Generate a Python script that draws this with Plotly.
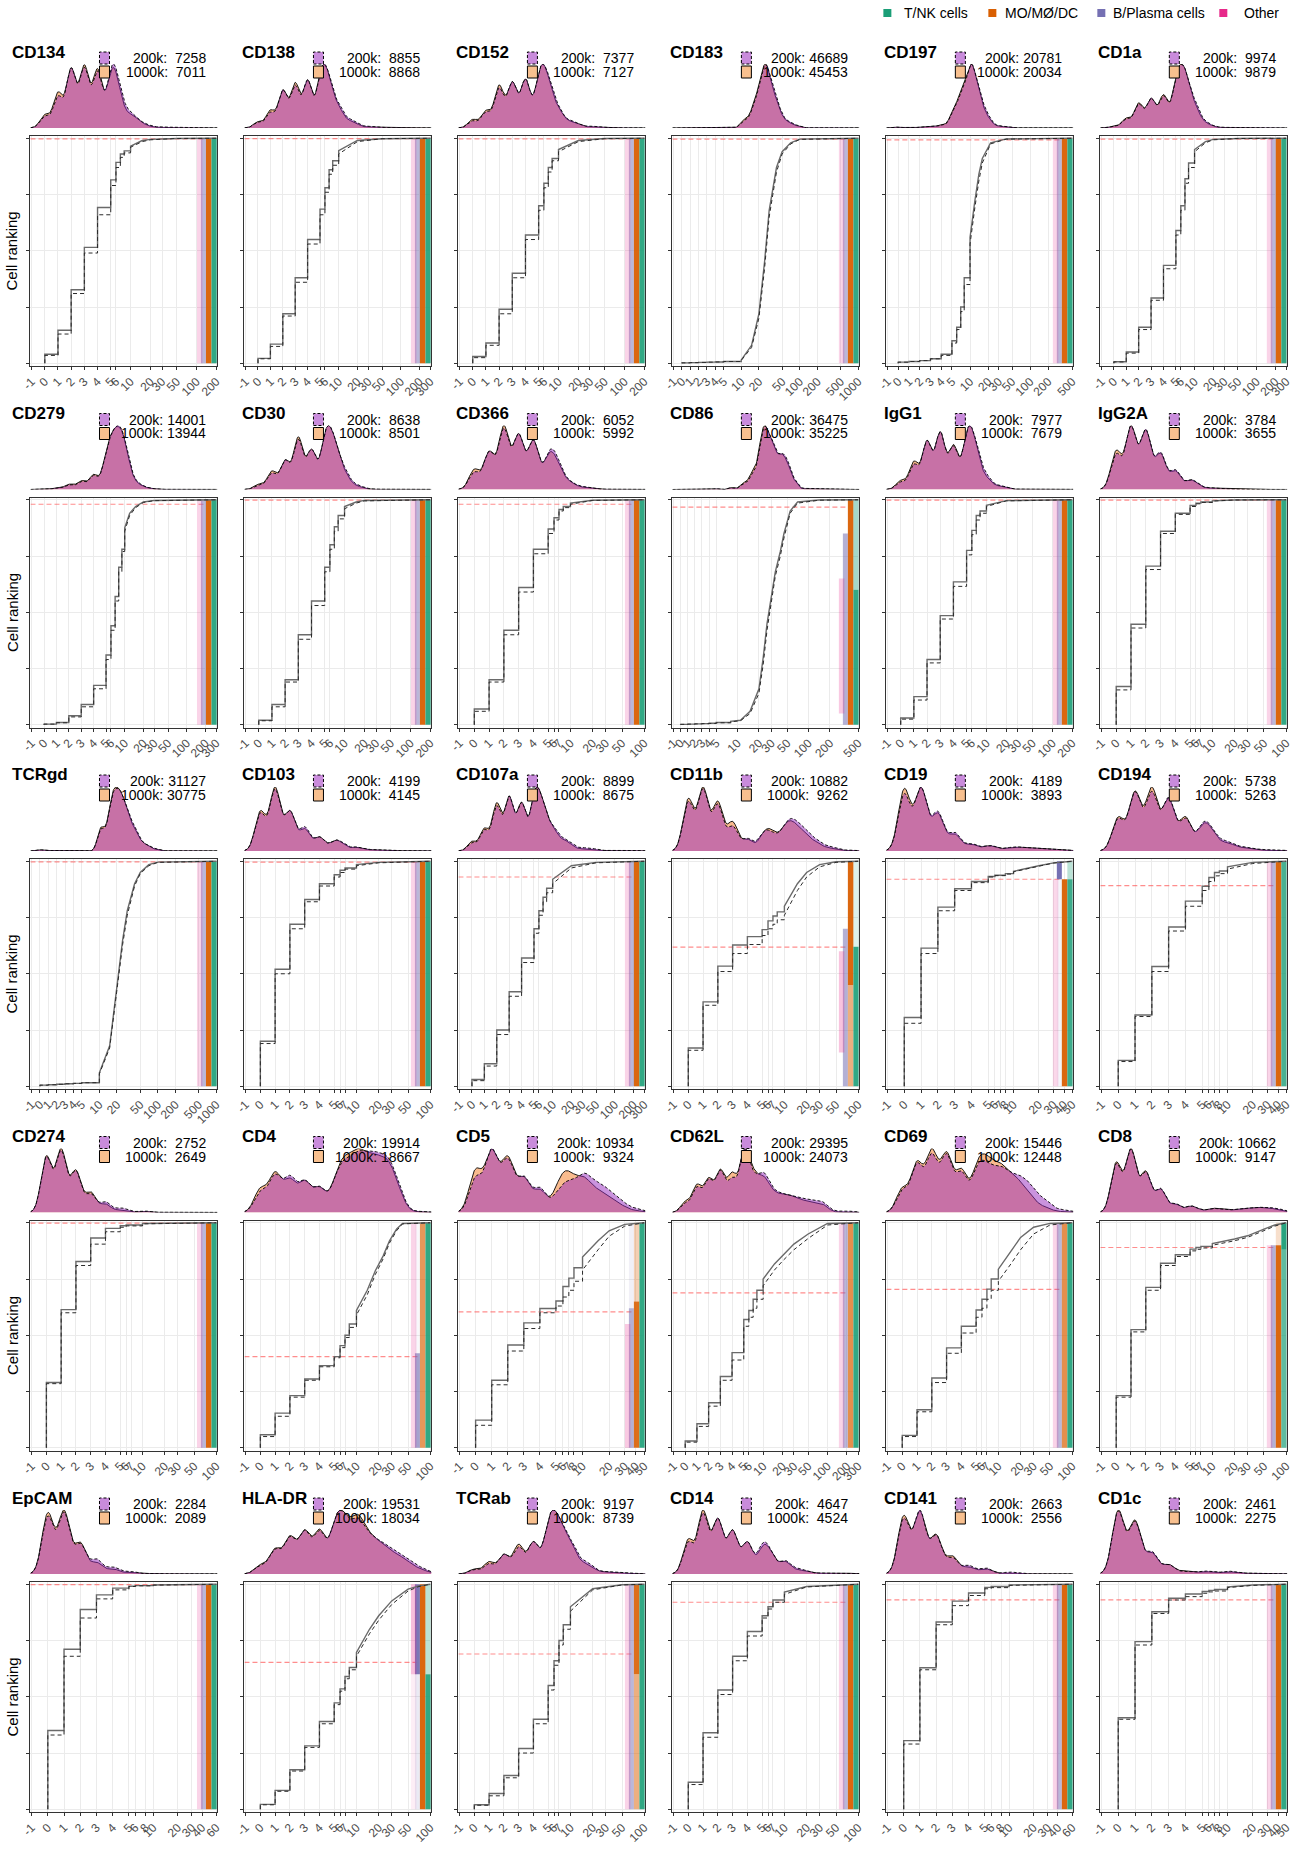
import math
import numpy as np
import plotly.graph_objects as go

FIG_W, FIG_H = 1299, 1850
FONT = "Liberation Sans, Arial, sans-serif"
# horizontal calibration of the rendered page (offset px, scale)
PAGE_X0, PAGE_XS = 10.5, 0.9886

# ---------------------------------------------------------------- data
MARKERS = ["CD134", "CD138", "CD152", "CD183", "CD197", "CD1a",
           "CD279", "CD30", "CD366", "CD86", "IgG1", "IgG2A",
           "TCRgd", "CD103", "CD107a", "CD11b", "CD19", "CD194",
           "CD274", "CD4", "CD5", "CD62L", "CD69", "CD8",
           "EpCAM", "HLA-DR", "TCRab", "CD14", "CD141", "CD1c"]
COUNT_200K = [7258, 8855, 7377, 46689, 20781, 9974,
              14001, 8638, 6052, 36475, 7977, 3784,
              31127, 4199, 8899, 10882, 4189, 5738,
              2752, 19914, 10934, 29395, 15446, 10662,
              2284, 19531, 9197, 4647, 2663, 2461]
COUNT_1000K = [7011, 8868, 7127, 45453, 20034, 9879,
               13944, 8501, 5992, 35225, 7679, 3655,
               30775, 4145, 8675, 9262, 3893, 5263,
               2649, 18667, 9324, 24073, 12448, 9147,
               2089, 18034, 8739, 4524, 2556, 2275]

# axis maximum (counts) and number of axis units per decade above 5
AXIS_MAX = [200, 300, 200, 1000, 500, 300,
            300, 200, 100, 500, 200, 100,
            1000, 100, 300, 100, 50, 50,
            100, 100, 50, 300, 100, 100,
            60, 100, 100, 100, 60, 50]
DECADE_UNITS = [5, 5, 5, 7, 5.6, 5,
                5, 5, 5, 10, 5, 5,
                7, 5, 5, 5, 5, 5,
                5, 5, 5.5, 5.5, 5, 5,
                5, 5, 5, 5, 5, 5]
BANDWIDTH = {"CD4": 0.42, "CD5": 0.4, "CD69": 0.4, "HLA-DR": 0.4, "CD62L": 0.4}

TICKS_50 = [-1, 0, 1, 2, 3, 4, 5, 6, 7, 8, 10, 20, 30, 40, 50]
TICKS_60 = [-1, 0, 1, 2, 3, 4, 5, 6, 8, 10, 20, 30, 40, 60]
TICKS_100 = [-1, 0, 1, 2, 3, 4, 5, 6, 7, 10, 20, 30, 50, 100]
TICKS_200 = [-1, 0, 1, 2, 3, 4, 5, 6, 10, 20, 30, 50, 100, 200]
TICKS_300 = [-1, 0, 1, 2, 3, 4, 5, 6, 10, 20, 30, 50, 100, 200, 300]
TICKS_500 = [-1, 0, 1, 2, 3, 4, 5, 10, 20, 30, 50, 100, 200, 500]
TICKS_1000 = [-1, 0, 1, 2, 3, 4, 5, 10, 20, 50, 100, 200, 500, 1000]
TICK_SETS = {50: TICKS_50, 60: TICKS_60, 100: TICKS_100, 200: TICKS_200,
             300: TICKS_300, 500: TICKS_500, 1000: TICKS_1000}

# red dashed threshold (cell ranking)
RED_LINE = [0.997, 0.998, 0.997, 0.996, 0.993, 0.996,
            0.98, 0.998, 0.98, 0.967, 0.998, 0.998,
            0.997, 0.996, 0.93, 0.618, 0.92, 0.892,
            0.998, 0.405, 0.604, 0.688, 0.704, 0.89,
            0.998, 0.653, 0.69, 0.92, 0.931, 0.931]

# cumulative cell ranking at count values (solid = 1000k, dashed = 200k)
CDF_X = {
    "CD134": [0, 1, 2, 3, 4, 5, 6, 7, 8, 10, 15, 20, 50, 200],
    "CD138": [0, 1, 2, 3, 4, 5, 6, 7, 8, 10, 20, 50, 300],
    "CD152": [0, 1, 2, 3, 4, 5, 6, 7, 8, 10, 20, 50, 200],
    "CD183": [0, 1, 2, 3, 4, 5, 10, 15, 20, 25, 30, 40, 50, 70, 100, 1000],
    "CD197": [0, 1, 2, 3, 4, 5, 6, 7, 8, 10, 12, 14, 16, 22, 40, 500],
    "CD1a": [0, 1, 2, 3, 4, 5, 6, 7, 8, 10, 15, 20, 50, 300],
    "CD279": [0, 1, 2, 3, 4, 5, 6, 7, 8, 9, 10, 12, 15, 20, 30, 300],
    "CD30": [0, 1, 2, 3, 4, 5, 6, 7, 8, 10, 15, 20, 200],
    "CD366": [0, 1, 2, 3, 4, 5, 6, 7, 8, 10, 20, 100],
    "CD86": [0, 1, 2, 3, 4, 5, 8, 11, 15, 20, 23, 26, 30, 34, 40, 45, 55, 70, 140, 500],
    "IgG1": [0, 1, 2, 3, 4, 5, 6, 7, 8, 10, 20, 200],
    "IgG2A": [0, 1, 2, 3, 4, 5, 6, 7, 10, 20, 100],
    "TCRgd": [0, 1, 2, 3, 4, 5, 10, 15, 20, 25, 30, 40, 50, 70, 100, 1000],
    "CD103": [0, 1, 2, 3, 4, 5, 6, 7, 10, 20, 100],
    "CD107a": [0, 1, 2, 3, 4, 5, 6, 7, 8, 10, 20, 50, 300],
    "CD11b": [0, 1, 2, 3, 4, 5, 6, 7, 8, 10, 15, 20, 30, 50, 100],
    "CD19": [0, 1, 2, 3, 4, 5, 6, 8, 10, 20, 30, 50],
    "CD194": [0, 1, 2, 3, 4, 5, 6, 7, 8, 10, 20, 50],
    "CD274": [0, 1, 2, 3, 4, 5, 6, 10, 100],
    "CD4": [0, 1, 2, 3, 4, 5, 6, 7, 8, 10, 14, 18, 23, 28, 35, 42, 100],
    "CD5": [0, 1, 2, 3, 4, 5, 6, 7, 8, 10, 15, 20, 30, 50],
    "CD62L": [0, 1, 2, 3, 4, 5, 6, 7, 8, 10, 15, 20, 30, 50, 100, 300],
    "CD69": [0, 1, 2, 3, 4, 5, 6, 7, 8, 10, 15, 20, 30, 50, 100],
    "CD8": [0, 1, 2, 3, 4, 5, 6, 7, 10, 20, 30, 50, 70, 100],
    "EpCAM": [0, 1, 2, 3, 4, 5, 6, 10, 60],
    "HLA-DR": [0, 1, 2, 3, 4, 5, 6, 7, 8, 10, 15, 20, 30, 50, 70, 100],
    "TCRab": [0, 1, 2, 3, 4, 5, 6, 7, 8, 10, 20, 50, 100],
    "CD14": [0, 1, 2, 3, 4, 5, 6, 7, 10, 20, 100],
    "CD141": [0, 1, 2, 3, 4, 5, 6, 10, 60],
    "CD1c": [0, 1, 2, 3, 4, 5, 6, 7, 10, 20, 50],
}
CDF_1000K = {
    "CD134": [.04, .147, .327, .515, .692, .815, .893, .93, .944, .965, .99, .995, .999, 1],
    "CD138": [.022, .085, .22, .38, .55, .685, .78, .86, .9, .945, .99, .998, 1],
    "CD152": [.03, .09, .24, .40, .57, .70, .80, .87, .91, .95, .99, .999, 1],
    "CD183": [.002, .003, .004, .005, .006, .008, .015, .08, .22, .45, .68, .87, .94, .98, .996, 1],
    "CD197": [.005, .008, .012, .02, .04, .1, .16, .25, .38, .56, .72, .84, .91, .98, .997, 1],
    "CD1a": [.007, .05, .16, .29, .435, .59, .70, .82, .89, .95, .985, .995, .999, 1],
    "CD279": [.003, .01, .04, .09, .175, .31, .44, .57, .70, .78, .875, .94, .97, .99, .997, 1],
    "CD30": [.02, .09, .20, .40, .55, .70, .80, .88, .93, .97, .99, .997, 1],
    "CD366": [.07, .20, .42, .61, .78, .87, .92, .957, .97, .985, .998, 1],
    "CD86": [.002, .003, .004, .005, .007, .01, .015, .02, .06, .16, .30, .45, .58, .68, .77, .85, .95, .99, .999, 1],
    "IgG1": [.03, .125, .29, .485, .635, .775, .864, .93, .95, .975, .996, 1],
    "IgG2A": [.17, .447, .705, .86, .94, .975, .985, .99, .995, .999, 1],
    "TCRgd": [.005, .007, .009, .011, .013, .016, .06, .18, .45, .65, .78, .9, .95, .985, .996, 1],
    "CD103": [.2, .52, .72, .83, .9, .94, .96, .97, .985, .995, 1],
    "CD107a": [.03, .1, .25, .42, .57, .70, .78, .84, .88, .92, .98, .995, 1],
    "CD11b": [.17, .375, .534, .628, .665, .696, .735, .757, .775, .80, .90, .95, .985, .998, 1],
    "CD19": [.306, .614, .796, .878, .91, .932, .938, .945, .955, .98, .993, 1],
    "CD194": [.115, .317, .532, .708, .823, .889, .928, .95, .957, .975, .995, 1],
    "CD274": [.29, .614, .828, .932, .975, .987, .99, .997, 1],
    "CD4": [.058, .154, .232, .306, .365, .405, .454, .50, .55, .61, .70, .787, .853, .92, .972, .997, 1],
    "CD5": [.123, .30, .457, .555, .619, .652, .717, .754, .80, .848, .92, .964, .993, 1],
    "CD62L": [.03, .107, .20, .317, .423, .57, .61, .66, .70, .75, .817, .853, .905, .95, .997, 1],
    "CD69": [.055, .169, .31, .444, .54, .612, .66, .705, .75, .794, .876, .935, .98, .997, 1],
    "CD8": [.232, .525, .713, .82, .858, .883, .89, .895, .908, .928, .942, .972, .99, 1],
    "EpCAM": [.35, .711, .888, .953, .983, .991, .994, .997, 1],
    "HLA-DR": [.022, .084, .176, .282, .39, .473, .535, .59, .63, .697, .80, .86, .926, .978, .993, 1],
    "TCRab": [.02, .07, .15, .27, .40, .55, .66, .75, .82, .90, .98, .998, 1],
    "CD14": [.12, .34, .53, .68, .79, .86, .9, .93, .965, .99, 1],
    "CD141": [.305, .629, .832, .925, .961, .986, .99, .997, 1],
    "CD1c": [.407, .745, .878, .938, .957, .968, .973, .977, .988, .997, 1],
}
CDF_200K = {
    "CD134": [.035, .13, .31, .49, .66, .79, .87, .915, .935, .96, .985, .993, .999, 1],
    "CD138": [.02, .075, .21, .36, .53, .66, .76, .84, .88, .93, .985, .998, 1],
    "CD152": [.025, .08, .22, .38, .55, .68, .78, .85, .90, .94, .985, .998, 1],
    "CD183": [.002, .003, .004, .005, .006, .008, .013, .07, .2, .42, .65, .85, .93, .975, .995, 1],
    "CD197": [.005, .008, .012, .02, .035, .09, .15, .23, .35, .53, .69, .81, .89, .975, .996, 1],
    "CD1a": [.006, .045, .15, .28, .42, .57, .68, .80, .87, .94, .98, .993, .999, 1],
    "CD279": [.003, .009, .035, .08, .16, .29, .42, .55, .68, .77, .86, .93, .965, .988, .996, 1],
    "CD30": [.018, .08, .19, .38, .53, .68, .78, .86, .915, .96, .985, .995, 1],
    "CD366": [.06, .19, .40, .59, .76, .85, .91, .95, .965, .98, .997, 1],
    "CD86": [.002, .003, .004, .005, .006, .009, .013, .018, .05, .14, .27, .42, .55, .66, .75, .83, .94, .985, .998, 1],
    "IgG1": [.025, .11, .275, .47, .615, .755, .845, .91, .94, .97, .995, 1],
    "IgG2A": [.155, .43, .69, .85, .935, .97, .982, .988, .994, .999, 1],
    "TCRgd": [.005, .007, .009, .011, .013, .016, .055, .17, .43, .63, .76, .89, .945, .98, .995, 1],
    "CD103": [.19, .5, .70, .82, .89, .93, .95, .965, .98, .993, 1],
    "CD107a": [.025, .09, .23, .40, .55, .68, .76, .82, .86, .90, .97, .993, 1],
    "CD11b": [.16, .36, .51, .59, .63, .67, .70, .72, .74, .76, .87, .93, .975, .995, 1],
    "CD19": [.28, .59, .78, .87, .905, .93, .936, .943, .953, .978, .992, 1],
    "CD194": [.11, .31, .51, .69, .80, .87, .91, .935, .945, .965, .99, 1],
    "CD274": [.285, .60, .81, .905, .96, .98, .986, .995, 1],
    "CD4": [.05, .14, .225, .30, .36, .40, .445, .49, .535, .59, .68, .77, .84, .91, .965, .995, 1],
    "CD5": [.10, .28, .43, .53, .60, .63, .67, .70, .74, .79, .88, .94, .985, 1],
    "CD62L": [.025, .095, .185, .30, .39, .54, .58, .62, .66, .72, .79, .83, .88, .93, .99, 1],
    "CD69": [.05, .16, .29, .42, .51, .58, .62, .66, .70, .74, .82, .88, .95, .99, 1],
    "CD8": [.225, .515, .70, .81, .85, .875, .882, .888, .90, .92, .935, .965, .985, 1],
    "EpCAM": [.33, .68, .85, .935, .975, .99, .993, .996, 1],
    "HLA-DR": [.02, .08, .17, .275, .38, .465, .525, .58, .62, .68, .78, .84, .91, .97, .99, 1],
    "TCRab": [.018, .06, .14, .25, .38, .53, .64, .73, .80, .88, .975, .997, 1],
    "CD14": [.11, .32, .51, .66, .77, .85, .89, .92, .955, .988, 1],
    "CD141": [.29, .62, .82, .905, .95, .98, .985, .995, 1],
    "CD1c": [.40, .73, .87, .93, .945, .96, .966, .97, .985, .995, 1],
}
DISCRETE_MAX = 10  # counts up to here are drawn as visible steps

# cell-type rug: [rank from, rank to, fill level] segments per marker
CELL_TYPES = ["T/NK cells", "MO/MØ/DC", "B/Plasma cells", "Other"]
CELL_COLORS = ["#1B9E77", "#D95F02", "#7570B3", "#E7298A"]
RUG_DEFAULT_TNK = [[0, 1, 0.9]]
RUG_DEFAULT_MO = [[0, 1, 0.95]]
RUG_DEFAULT_BPL = [[0, 1, 0.5]]
RUG_DEFAULT_OTHER = [[0, 1, 0.2]]
RUG_TNK = {"CD86": [[0, 0.6, 0.9], [0.6, 1, 0.4]],
           "CD11b": [[0, 0.62, 0.9], [0.62, 1, 0.15]],
           "CD19": [[0, 0.92, 0.85], [0.92, 1, 0.3]],
           "CD194": [[0, 1, 0.8]],
           "CD8": [[0.88, 1, 0.95], [0, 0.88, 0.7]],
           "HLA-DR": [[0, 0.6, 0.9], [0.6, 1, 0.3]]}
RUG_MO = {"CD11b": [[0.45, 1, 0.95], [0, 0.45, 0.5]],
          "CD19": [[0, 0.92, 0.95]],
          "CD4": [[0, 1, 0.65]],
          "CD5": [[0, 0.65, 0.9], [0.65, 1, 0.3]],
          "CD62L": [[0, 1, 0.7]],
          "CD69": [[0, 1, 0.7]],
          "CD8": [[0, 0.9, 0.95], [0.9, 1, 0.2]],
          "TCRab": [[0.6, 1, 0.9], [0, 0.6, 0.5]]}
RUG_BPL = {"CD11b": [[0, 0.7, 0.55]],
           "CD19": [[0.92, 1, 1.0], [0, 0.92, 0.08]],
           "CD4": [[0, 0.42, 0.65], [0.42, 1, 0.05]],
           "CD5": [[0, 0.62, 0.55], [0.62, 1, 0.1]],
           "CD8": [[0, 0.9, 0.55]],
           "HLA-DR": [[0.6, 1, 0.95], [0, 0.6, 0.15]],
           "CD86": [[0, 0.85, 0.55]]}
RUG_OTHER = {"CD11b": [[0.15, 0.6, 0.28]],
             "CD19": [[0, 0.92, 0.18]],
             "CD5": [[0, 0.55, 0.25]],
             "CD8": [[0, 0.9, 0.2]],
             "HLA-DR": [[0.6, 1, 0.3], [0, 0.6, 0.08]],
             "CD86": [[0.05, 0.65, 0.25]]}

# ---------------------------------------------------------------- helpers
BOX_W, BOX_H = 187, 230


def tr(v, k):
    v = np.asarray(v, dtype=float)
    return np.where(v <= 5, v, 5 + k * np.log10(np.maximum(v, 5) / 5))


_erf = np.vectorize(math.erf)


def ncdf(z):
    return 0.5 * (1 + _erf(z / math.sqrt(2)))


def density(xs, fs, k, s, grid):
    dens = np.zeros_like(grid)
    prev_f, prev_x = 0.0, 0.0
    for x, f in zip(xs, fs):
        m = f - prev_f
        if x <= DISCRETE_MAX:
            mu = float(tr(x, k))
            dens += m * np.exp(-0.5 * ((grid - mu) / s) ** 2) / (s * math.sqrt(2 * math.pi))
        else:
            a, b = float(tr(prev_x, k)), float(tr(x, k))
            dens += m / (b - a) * (ncdf((grid - a) / s) - ncdf((grid - b) / s))
        prev_f, prev_x = f, x
    return dens


def step_path(xs, fs, k):
    px, py = [float(tr(0, k))], [0.0]
    prev = 0.0
    for x, f in zip(xs, fs):
        tx = float(tr(x, k))
        if x <= DISCRETE_MAX:
            px += [tx, tx]
            py += [prev, f]
        else:
            px.append(tx)
            py.append(f)
        prev = f
    return px, py


def rgba(hexcol, a):
    h = hexcol.lstrip("#")
    return "rgba(%d,%d,%d,%.3f)" % (int(h[0:2], 16), int(h[2:4], 16), int(h[4:6], 16), a)


def pxx(p):
    return min(1.0, max(0.0, (p - PAGE_X0) / (FIG_W * PAGE_XS)))


def pxy(p):
    return 1 - p / FIG_H


def sfx(n):
    return "" if n == 1 else str(n)


fig = go.Figure()
layout_axes = {}
annotations = []
shapes = []
box_w_eff = BOX_W / PAGE_XS  # width the box gets in figure pixels

for i, m in enumerate(MARKERS):
    r, c = divmod(i, 6)
    L = 31 + 214 * c
    T = 136 + 361.5 * r
    k = DECADE_UNITS[i]
    xmax = AXIS_MAX[i]
    t0, t1 = -1.0, float(tr(xmax, k))
    span = t1 - t0
    xr = [t0 - 0.006 * span, t1 + 0.006 * span]
    dpp = (xr[1] - xr[0]) / BOX_W  # data units per screen pixel
    a_main, a_den = 2 * i + 1, 2 * i + 2
    xm, ym = "x" + sfx(a_main), "y" + sfx(a_main)
    xd, yd = "x" + sfx(a_den), "y" + sfx(a_den)

    ticks = TICK_SETS[xmax]
    layout_axes["xaxis" + sfx(a_main)] = dict(
        domain=[pxx(L), pxx(L + BOX_W)], anchor=ym, range=xr,
        tickvals=[float(tr(v, k)) for v in ticks], ticktext=[str(v) for v in ticks],
        tickangle=-45, tickfont=dict(size=12, color="#4d4d4d", family=FONT),
        ticks="outside", ticklen=3, tickcolor="#333333",
        showgrid=True, gridcolor="#ebebeb", gridwidth=1, zeroline=False,
        showline=True, linecolor="#333333", linewidth=1, mirror=True)
    layout_axes["yaxis" + sfx(a_main)] = dict(
        domain=[pxy(T + BOX_H), pxy(T)], anchor=xm, range=[-0.012, 1.01],
        tickvals=[0, 0.25, 0.5, 0.75, 1], showticklabels=False,
        ticks="outside", ticklen=3, tickcolor="#333333",
        showgrid=True, gridcolor="#ebebeb", gridwidth=1, zeroline=False,
        showline=True, linecolor="#333333", linewidth=1, mirror=True)

    # density panel
    grid = np.linspace(xr[0], xr[1], 500)
    s = BANDWIDTH.get(m, 0.36)
    d1000 = density(CDF_X[m], CDF_1000K[m], k, s, grid)
    d200 = density(CDF_X[m], CDF_200K[m], k, s, grid)
    top = max(d1000.max(), d200.max())
    layout_axes["xaxis" + sfx(a_den)] = dict(
        domain=[pxx(L), pxx(L + BOX_W)], anchor=yd, range=xr,
        visible=False, showgrid=False, zeroline=False)
    layout_axes["yaxis" + sfx(a_den)] = dict(
        domain=[pxy(T - 8), pxy(T - 72)], anchor=xd, range=[0, top],
        visible=False, showgrid=False, zeroline=False)
    fig.add_trace(go.Scatter(x=grid, y=d1000, xaxis=xd, yaxis=yd, mode="lines",
                             fill="tozeroy", fillcolor="rgba(244,132,50,0.55)",
                             line=dict(color="black", width=0.9), hoverinfo="skip"))
    fig.add_trace(go.Scatter(x=grid, y=d200, xaxis=xd, yaxis=yd, mode="lines",
                             fill="tozeroy", fillcolor="rgba(150,40,190,0.5)",
                             line=dict(color="black", width=0.9, dash="3px,2px"),
                             hoverinfo="skip"))

    # red threshold line
    x_rug_left = xr[1] - 12 * dpp
    fig.add_trace(go.Scatter(x=[xr[0], x_rug_left], y=[RED_LINE[i]] * 2, xaxis=xm, yaxis=ym,
                             mode="lines", line=dict(color="rgba(255,80,80,0.65)", width=1.2,
                                                     dash="5px,3px"), hoverinfo="skip"))

    # rug
    rug_specs = [
        (RUG_BPL.get(m, RUG_DEFAULT_BPL), CELL_COLORS[2], 16.5, 11.5),
        (RUG_OTHER.get(m, RUG_DEFAULT_OTHER), CELL_COLORS[3], 20.5, 15.0),
        (RUG_MO.get(m, RUG_DEFAULT_MO), CELL_COLORS[1], 11.5, 6.0),
        (RUG_TNK.get(m, RUG_DEFAULT_TNK), CELL_COLORS[0], 6.0, 0.8),
    ]
    for segs, col, p0, p1 in rug_specs:
        xa, xb = xr[1] - p0 * dpp, xr[1] - p1 * dpp
        for y0, y1, lev in segs:
            fig.add_trace(go.Scatter(
                x=[xa, xb, xb, xa, xa], y=[y0, y0, y1, y1, y0], xaxis=xm, yaxis=ym,
                mode="lines", line=dict(width=0), fill="toself",
                fillcolor=rgba(col, lev), hoverinfo="skip"))

    # step curves
    sx, sy = step_path(CDF_X[m], CDF_1000K[m], k)
    fig.add_trace(go.Scatter(x=sx, y=sy, xaxis=xm, yaxis=ym, mode="lines",
                             line=dict(color="#6a6a6a", width=1.4), hoverinfo="skip"))
    sx, sy = step_path(CDF_X[m], CDF_200K[m], k)
    fig.add_trace(go.Scatter(x=sx, y=sy, xaxis=xm, yaxis=ym, mode="lines",
                             line=dict(color="#2b2b2b", width=1.0, dash="4px,3px"),
                             hoverinfo="skip"))

    # title, count legend
    tx = 8 if c == 0 else L - 4
    annotations.append(dict(x=pxx(tx), y=pxy(T - 84), xref="paper", yref="paper",
                            text="<b>%s</b>" % m, showarrow=False, xanchor="left",
                            yanchor="middle", font=dict(size=17, color="black", family=FONT)))
    lab1 = ("200k: %5d" % COUNT_200K[i]).replace(" ", "\u00a0")
    lab2 = ("1000k: %5d" % COUNT_1000K[i]).replace(" ", "\u00a0")
    for lab, yy in ((lab1, T - 78), (lab2, T - 64)):
        annotations.append(dict(x=pxx(L + 178), y=pxy(yy), xref="paper", yref="paper",
                                text=lab, showarrow=False, xanchor="right", yanchor="middle",
                                font=dict(size=14, color="black", family=FONT)))
    shapes.append(dict(type="rect", xref="paper", yref="paper",
                       x0=pxx(L + 69), x1=pxx(L + 79), y0=pxy(T - 72), y1=pxy(T - 84),
                       fillcolor="#c98bdb", line=dict(color="black", width=1, dash="3px,2px")))
    shapes.append(dict(type="rect", xref="paper", yref="paper",
                       x0=pxx(L + 69), x1=pxx(L + 79), y0=pxy(T - 58), y1=pxy(T - 70),
                       fillcolor="#f8c08f", line=dict(color="black", width=1)))
    if c == 0:
        annotations.append(dict(x=pxx(13), y=pxy(T + BOX_H / 2), xref="paper", yref="paper",
                                text="Cell ranking", textangle=-90, showarrow=False,
                                xanchor="center", yanchor="middle",
                                font=dict(size=15, color="black", family=FONT)))

# top legend
LEG_SQ_X = [884, 989, 1098, 1220]
LEG_TX_X = [903, 1004, 1112, 1243]
for name, col, sxp, txp in zip(CELL_TYPES, CELL_COLORS, LEG_SQ_X, LEG_TX_X):
    shapes.append(dict(type="rect", xref="paper", yref="paper",
                       x0=pxx(sxp), x1=pxx(sxp + 8), y0=pxy(17), y1=pxy(9),
                       fillcolor=col, line=dict(width=0)))
    annotations.append(dict(x=pxx(txp), y=pxy(13), xref="paper", yref="paper", text=name,
                            showarrow=False, xanchor="left", yanchor="middle",
                            font=dict(size=14, color="black", family=FONT)))

fig.update_layout(width=FIG_W, height=FIG_H, margin=dict(l=0, r=0, t=0, b=0),
                  plot_bgcolor="white", paper_bgcolor="white", showlegend=False,
                  annotations=annotations, shapes=shapes, font=dict(family=FONT),
                  **layout_axes)
fig.write_html("out.html", config={"displayModeBar": False, "responsive": False},
               post_script=("document.body.style.margin='0';"
                            "document.documentElement.style.overflow='hidden';"
                            "document.body.style.overflow='hidden';"))
